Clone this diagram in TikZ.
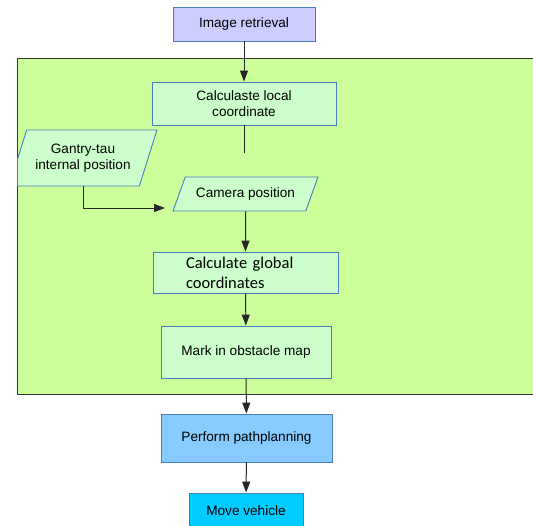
\documentclass[tikz,border=0pt]{standalone}
\usepackage{fontspec}
\setmainfont{Liberation Sans}
\newfontfamily\calibrifont{Carlito}
\usetikzlibrary{arrows.meta,shapes.geometric,positioning}

\definecolor{edgeblue}{HTML}{4A7EBB}
\definecolor{lavender}{HTML}{CCCCFF}
\definecolor{areagreen}{HTML}{CCFF99}
\definecolor{paleglreen}{HTML}{CCFFCC}
\definecolor{skyblue}{HTML}{88CBFF}
\definecolor{cyanblue}{HTML}{00CCFF}

\begin{document}
\begin{tikzpicture}[x=1pt,y=-1pt,font=\fontsize{13.6}{15.5}\selectfont,
    >={Triangle[length=11pt,width=8pt]}]
  \tikzstyle{procbox}=[draw=edgeblue,line width=0.9pt,align=center,inner sep=1pt]
  \tikzstyle{iobox}=[procbox,trapezium,trapezium stretches=true]
  \tikzstyle{flowline}=[draw=black!85,line width=1pt]

  \clip (0,0) rectangle (533,525);

  % area of the obstacle mapping
  \fill[areagreen] (17,58) rectangle (533,394);
  \draw[black!80,line width=1pt] (533,58) -- (17,58) -- (17,394) -- (533,394);

  \node[procbox,fill=lavender,minimum width=142,minimum height=34] (img) at (244,24) {Image retrieval};
  \node[procbox,fill=paleglreen,minimum width=184,minimum height=43] (local) at (244,103.5) {Calculaste local\\coordinate};
  \coordinate (localend) at (244,153);

  \begin{scope}
    \clip (17.5,58) rectangle (533,394);
    \node[iobox,fill=paleglreen,trapezium left angle=63,trapezium right angle=117,
          minimum width=148,minimum height=56] (gantry) at (83,158) {Gantry-tau\\internal position};
  \end{scope}
  \node[iobox,fill=paleglreen,trapezium left angle=55,trapezium right angle=125,
        minimum width=145,minimum height=34] (camera) at (245.5,194) {Camera position};
  \coordinate (camin) at (165,208);

  \node[procbox,fill=paleglreen,minimum width=185,minimum height=41,inner xsep=33pt,
        text width=119,align=left,font=\calibrifont\fontsize{16.5}{20}\selectfont] (global) at (245.5,272.5)
        {Calculate global\\coordinates};
  \node[procbox,fill=paleglreen,minimum width=170,minimum height=52] (mark) at (246,352) {Mark in obstacle map};

  \node[procbox,fill=skyblue,minimum width=171,minimum height=48] (path) at (246.5,438) {Perform pathplanning};
  \node[procbox,fill=cyanblue,minimum width=114,minimum height=36] (move) at (246,511) {Move vehicle};

  % connectors
  \draw[flowline,->] (img) -- (local);
  \draw[flowline] (local) -- (localend);
  \draw[flowline,->] (gantry.south) |- (camin);
  \draw[flowline,->] (camera.south) -- (global);
  \draw[flowline,->] (global) -- (mark);
  \draw[flowline,->] (mark) -- (path);
  \draw[flowline,->] (path) -- (move);
\end{tikzpicture}
\end{document}
